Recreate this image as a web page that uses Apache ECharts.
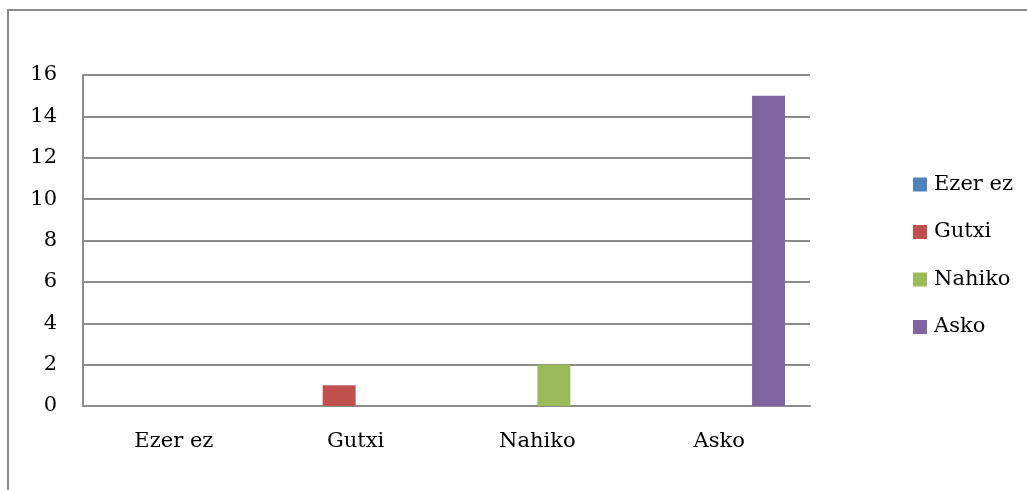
<!DOCTYPE html>
<html>
<head>
<meta charset="utf-8">
<script src="https://cdn.jsdelivr.net/npm/echarts@6/dist/echarts.min.js"></script>
<style>
html,body{margin:0;padding:0;background:#fff;}
#chart{width:1027px;height:490px;}
</style>
</head>
<body>
<div id="chart"></div>
<script>
const categories = ['Ezer ez', 'Gutxi', 'Nahiko', 'Asko'];
const seriesNames = ['Ezer ez', 'Gutxi', 'Nahiko', 'Asko'];
const ezerEzValues = [0, '-', '-', '-'];
const gutxiValues = ['-', 1, '-', '-'];
const nahikoValues = ['-', '-', 2, '-'];
const askoValues = ['-', '-', '-', 15];
const colors = ['#4f81bd', '#c0504d', '#9bbb59', '#8064a2'];
const yTicks = {min: 0, max: 16, interval: 2};

const allValues = [ezerEzValues, gutxiValues, nahikoValues, askoValues];
const font = 'DejaVu Serif';
const chart = echarts.init(document.getElementById('chart'));
chart.setOption({
  animation: false,
  color: colors,
  graphic: [{
    type: 'rect',
    shape: {x: 8, y: 10, width: 1040, height: 520},
    style: {fill: 'none', stroke: '#8c8c8c', lineWidth: 2},
    silent: true
  }],
  grid: {left: 83, right: 217, top: 75, bottom: 84, containLabel: false},
  legend: {
    orient: 'vertical',
    left: 913,
    top: 174,
    padding: 0,
    itemWidth: 14,
    itemHeight: 14,
    itemGap: 26.5,
    icon: 'rect',
    data: seriesNames,
    textStyle: {fontFamily: font, fontSize: 21, color: '#000', lineHeight: 20, padding: [0, 0, 0, 2]}
  },
  xAxis: {
    type: 'category',
    data: categories,
    axisTick: {show: false},
    axisLine: {lineStyle: {color: '#8c8c8c', width: 2}},
    axisLabel: {fontFamily: font, fontSize: 21, color: '#000', margin: 25}
  },
  yAxis: {
    type: 'value',
    min: yTicks.min,
    max: yTicks.max,
    interval: yTicks.interval,
    axisLine: {show: true, lineStyle: {color: '#8c8c8c', width: 2}},
    axisTick: {show: false},
    splitLine: {lineStyle: {color: '#8c8c8c', width: 2}},
    axisLabel: {fontFamily: font, fontSize: 21, color: '#000', margin: 26}
  },
  series: seriesNames.map((n, i) => ({
    name: n,
    type: 'bar',
    data: allValues[i],
    barGap: '0%',
    barCategoryGap: '27.5%'
  }))
});
</script>
</body>
</html>
